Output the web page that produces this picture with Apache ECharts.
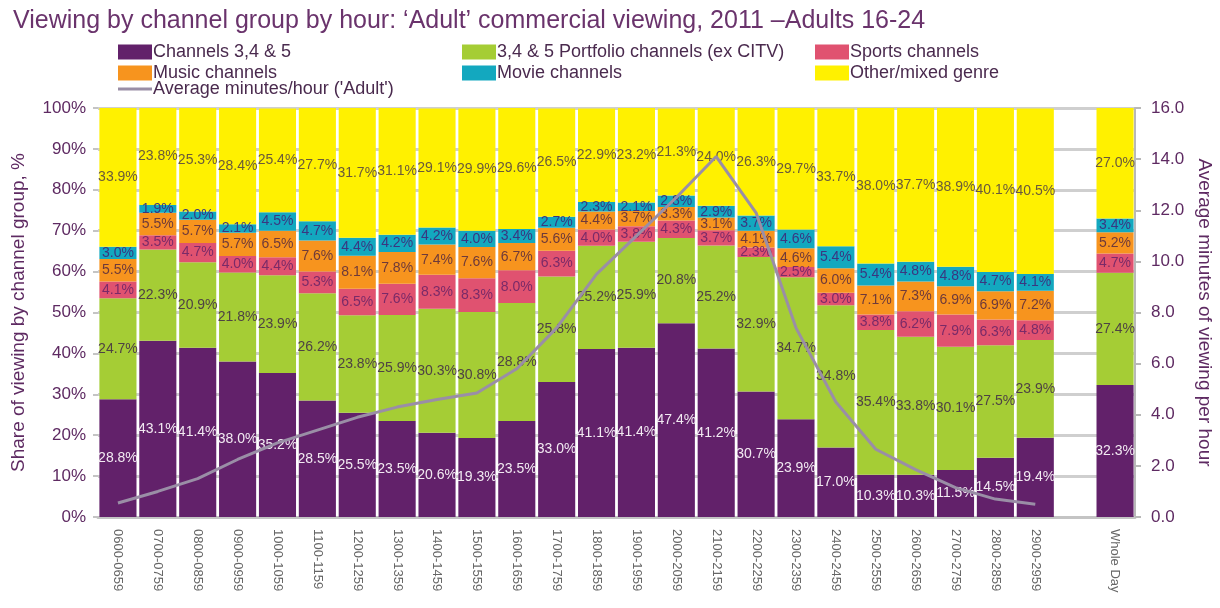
<!DOCTYPE html>
<html>
<head>
<meta charset="utf-8">
<script src="https://cdn.jsdelivr.net/npm/echarts@6/dist/echarts.min.js"></script>
<style>
  html, body { margin: 0; padding: 0; background: #fff; }
  #chart { width: 1220px; height: 608px; }
</style>
</head>
<body>
<div id="chart"></div>
<script>
const hours = [
  "0600-0659", "0700-0759", "0800-0859", "0900-0959", "1000-1059", "1100-1159",
  "1200-1259", "1300-1359", "1400-1459", "1500-1559", "1600-1659", "1700-1759",
  "1800-1859", "1900-1959", "2000-2059", "2100-2159", "2200-2259", "2300-2359",
  "2400-2459", "2500-2559", "2600-2659", "2700-2759", "2800-2859", "2900-2959",
  "", "Whole Day",
];

// share of viewing, % (null = gap column)
const ch345 = [28.8, 43.1, 41.4, 38.0, 35.2, 28.5, 25.5, 23.5, 20.6, 19.3, 23.5, 33.0, 41.1, 41.4, 47.4, 41.2, 30.7, 23.9, 17.0, 10.3, 10.3, 11.5, 14.5, 19.4, null, 32.3];
const portfolio = [24.7, 22.3, 20.9, 21.8, 23.9, 26.2, 23.8, 25.9, 30.3, 30.8, 28.8, 25.8, 25.2, 25.9, 20.8, 25.2, 32.9, 34.7, 34.8, 35.4, 33.8, 30.1, 27.5, 23.9, null, 27.4];
const sports = [4.1, 3.5, 4.7, 4.0, 4.4, 5.3, 6.5, 7.6, 8.3, 8.3, 8.0, 6.3, 4.0, 3.8, 4.3, 3.7, 2.3, 2.5, 3.0, 3.8, 6.2, 7.9, 6.3, 4.8, null, 4.7];
const music = [5.5, 5.5, 5.7, 5.7, 6.5, 7.6, 8.1, 7.8, 7.4, 7.6, 6.7, 5.6, 4.4, 3.7, 3.3, 3.1, 4.1, 4.6, 6.0, 7.1, 7.3, 6.9, 6.9, 7.2, null, 5.2];
const movie = [3.0, 1.9, 2.0, 2.1, 4.5, 4.7, 4.4, 4.2, 4.2, 4.0, 3.4, 2.7, 2.3, 2.1, 2.8, 2.9, 3.7, 4.6, 5.4, 5.4, 4.8, 4.8, 4.7, 4.1, null, 3.4];
const other = [33.9, 23.8, 25.3, 28.4, 25.4, 27.7, 31.7, 31.1, 29.1, 29.9, 29.6, 26.5, 22.9, 23.2, 21.3, 24.0, 26.3, 29.7, 33.7, 38.0, 37.7, 38.9, 40.1, 40.5, null, 27.0];

// average minutes per hour (estimated from the line)
const avgMinutes = [0.55, 1.0, 1.5, 2.25, 2.9, 3.4, 3.9, 4.3, 4.6, 4.85, 5.8, 7.4, 9.5, 11.0, 12.5, 14.1, 11.9, 7.4, 4.5, 2.65, 1.85, 1.15, 0.7, 0.5, null, null];

const font = "'Liberation Sans Narrow', 'Arial Narrow', 'Liberation Sans', sans-serif";
const purple = "#5e2a62";

function barSeries(name, data, color, labelColor) {
  return {
    name: name,
    type: "bar",
    stack: "share",
    barCategoryGap: "7%",
    itemStyle: { color: color },
    label: {
      show: true,
      position: "inside",
      color: labelColor,
      fontSize: 14,
      fontFamily: "'Liberation Sans', sans-serif",
      formatter: (p) => (p.value == null ? "" : p.value.toFixed(1) + "%"),
    },
    data: data,
  };
}

const legendText = { color: "#4a2a4e", fontSize: 18, fontFamily: font, padding: [0, 0, 0, -4] };

const option = {
  animation: false,
  title: {
    text: "Viewing by channel group by hour: \u2018Adult\u2019 commercial viewing, 2011 \u2013Adults 16-24",
    left: 8,
    top: 4,
    textStyle: { color: "#6a336c", fontSize: 25, fontWeight: "normal", fontFamily: font },
  },
  legend: [
    {
      left: 113, top: 38, orient: "vertical", itemGap: 3, itemWidth: 34, itemHeight: 15,
      icon: "rect", textStyle: legendText,
      data: ["Channels 3,4 & 5", "Music channels"],
    },
    {
      left: 457, top: 38, orient: "vertical", itemGap: 3, itemWidth: 34, itemHeight: 15,
      icon: "rect", textStyle: legendText,
      data: ["3,4 & 5 Portfolio channels (ex CITV)", "Movie channels"],
    },
    {
      left: 810, top: 38, orient: "vertical", itemGap: 3, itemWidth: 34, itemHeight: 15,
      icon: "rect", textStyle: legendText,
      data: ["Sports channels", "Other/mixed genre"],
    },
    {
      left: 113, top: 75, itemWidth: 34, itemHeight: 3,
      icon: "rect", textStyle: legendText,
      data: ["Average minutes/hour ('Adult')"],
    },
  ],
  grid: { left: 98, right: 85, top: 108, bottom: 91, outerBoundsMode: "none" },
  xAxis: {
    type: "category",
    data: hours,
    axisLine: { lineStyle: { color: "#c4c4c4", width: 3 } },
    axisTick: { show: false },
    axisLabel: { rotate: -90, color: "#666", fontSize: 13, margin: 12, fontFamily: "'Liberation Sans', sans-serif", interval: 0 },
  },
  yAxis: [
    {
      type: "value",
      min: 0,
      max: 100,
      interval: 10,
      name: "Share of viewing by channel group, %",
      nameLocation: "middle",
      nameGap: 70,
      nameTextStyle: { color: purple, fontSize: 19, fontFamily: font },
      axisLine: { show: false },
      axisTick: { show: true, length: 5, lineStyle: { color: "#c4c4c4", width: 2 } },
      axisLabel: { color: purple, fontSize: 17, margin: 12, formatter: "{value}%", fontFamily: "'Liberation Sans', sans-serif" },
      splitLine: { lineStyle: { color: "#cfcfcf", width: 3 } },
    },
    {
      type: "value",
      min: 0,
      max: 16,
      interval: 2,
      name: "Average minutes of viewing per hour",
      nameLocation: "middle",
      nameRotate: -90,
      nameGap: 58,
      nameTextStyle: { color: purple, fontSize: 19, fontFamily: font },
      axisLine: { show: true, lineStyle: { color: "#b8b8b8", width: 2 } },
      axisTick: { show: true, length: 6, lineStyle: { color: "#b8b8b8", width: 2 } },
      axisLabel: { color: purple, fontSize: 17, margin: 16, formatter: (v) => v.toFixed(1), fontFamily: "'Liberation Sans', sans-serif" },
      splitLine: { show: false },
    },
  ],
  series: [
    barSeries("Channels 3,4 & 5", ch345, "#62216a", "#f2eaf2"),
    barSeries("3,4 & 5 Portfolio channels (ex CITV)", portfolio, "#a5cd35", "#4e4244"),
    barSeries("Sports channels", sports, "#e05270", "#7a2a68"),
    barSeries("Music channels", music, "#f7941e", "#6e3a3a"),
    barSeries("Movie channels", movie, "#13a8bf", "#3a3680"),
    barSeries("Other/mixed genre", other, "#fff100", "#6a5a3a"),
    {
      name: "Average minutes/hour ('Adult')",
      type: "line",
      yAxisIndex: 1,
      symbol: "none",
      lineStyle: { color: "#9a8ea6", width: 3 },
      itemStyle: { color: "#9a8ea6" },
      z: 5,
      data: avgMinutes,
    },
  ],
};

const mycharts = echarts.init(document.getElementById("chart"));
mycharts.setOption(option);
</script>
</body>
</html>
